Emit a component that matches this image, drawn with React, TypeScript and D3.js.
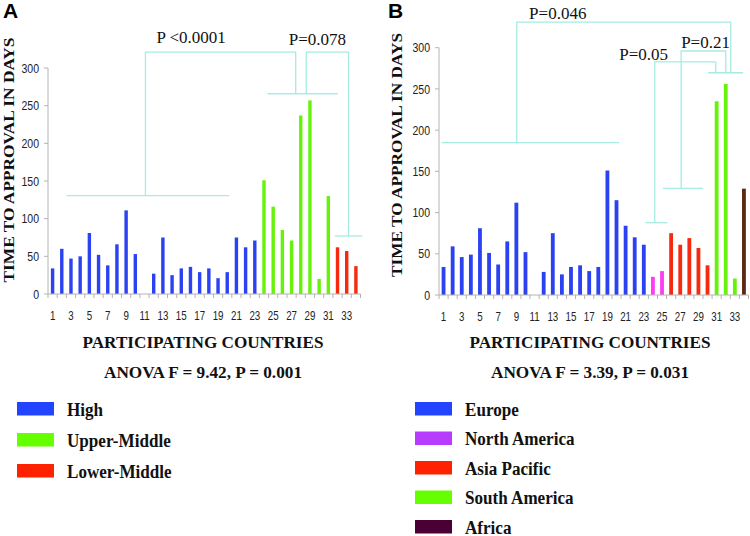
import React from "react";
import * as d3 from "d3";

// ---------- DATA ----------
const countries = d3.range(1, 35); // 1..34
const tickLabels = d3.range(1, 34, 2); // 1,3,...,33
const yTicks = [0, 50, 100, 150, 200, 250, 300];

// Panel A: income groups
const valuesA: (number | null)[] = [
  34, 60, 47, 50, 81, 52, 38, 66, 111, 53, null, 27, 75, 25, 34, 36, 29, 34, 21, 29, 75, 62, 71,
  151, 116, 85, 71, 237, 257, 20, 130,
  62, 57, 37,
];
const groupsA: string[] = [
  ...Array(23).fill("High"),
  ...Array(8).fill("Upper-Middle"),
  ...Array(3).fill("Lower-Middle"),
];
const legendA = ["High", "Upper-Middle", "Lower-Middle"];
const barColorA: Record<string, string> = { High: "#2b42f2", "Upper-Middle": "#66f20a", "Lower-Middle": "#f52a0e" };
const legendColorA: Record<string, string> = { High: "#2244ff", "Upper-Middle": "#66ff00", "Lower-Middle": "#ff2200" };

// Panel B: regions
const valuesB: (number | null)[] = [
  34, 59, 46, 49, 81, 51, 37, 65, 112, 52, null, 28, 75, 25, 34, 36, 29, 34, 151, 115, 84, 70, 61,
  22, 29,
  75, 61, 69, 57, 36,
  235, 256, 20,
  129,
];
const groupsB: string[] = [
  ...Array(23).fill("Europe"),
  ...Array(2).fill("North America"),
  ...Array(5).fill("Asia Pacific"),
  ...Array(3).fill("South America"),
  "Africa",
];
const legendB = ["Europe", "North America", "Asia Pacific", "South America", "Africa"];
const barColorB: Record<string, string> = {
  Europe: "#2b42f2",
  "North America": "#ff3cf5",
  "Asia Pacific": "#f52a0e",
  "South America": "#66f20a",
  Africa: "#5a2a12",
};
const legendColorB: Record<string, string> = {
  Europe: "#2244ff",
  "North America": "#b83cff",
  "Asia Pacific": "#ff2200",
  "South America": "#66ff00",
  Africa: "#4a0035",
};

// Significance brackets, in data units (k = country position, v = days)
type Bracket = { label: string; l: number; r: number; top: number; lDrop: number; rDrop: number; lBar: [number, number]; rBar: [number, number]; lx: number; ly: number };
const bracketsA: Bracket[] = [
  { label: "P <0.0001", l: 11.1, r: 27.45, top: 321, lDrop: 130.5, rDrop: 266, lBar: [2.53, 20.2], rBar: [24.4, 32], lx: 12.3, ly: 333 },
  { label: "P=0.078", l: 28.6, r: 33.2, top: 321, lDrop: 266, rDrop: 77, lBar: [24.4, 32], rBar: [31.7, 34.7], lx: 26.7, ly: 330 },
];
const bracketsB: Bracket[] = [
  { label: "P=0.046", l: 9.04, r: 32.55, top: 331, lDrop: 184.8, rDrop: 269.7, lBar: [0.8, 20.3], rBar: [30.1, 33.9], lx: 10.4, ly: 335 },
  { label: "P=0.21", l: 27.1, r: 32.0, top: 296, lDrop: 129.4, rDrop: 269.7, lBar: [25.1, 29.5], rBar: [30.1, 33.9], lx: 27.1, ly: 300 },
  { label: "P=0.05", l: 24.2, r: 30.9, top: 282.7, lDrop: 87.7, rDrop: 269.7, lBar: [23.2, 25.6], rBar: [30.1, 33.9], lx: 20.3, ly: 285 },
];

const BRACKET = "#a6ece2";
const AXIS = "#b4b4b4";
const SERIF = "'Liberation Serif', 'Times New Roman', serif";
const SANS = "'Liberation Sans', Arial, sans-serif";

type PanelProps = {
  letter: string;
  letterX: number;
  values: (number | null)[];
  groups: string[];
  barColor: Record<string, string>;
  legend: string[];
  legendColor: Record<string, string>;
  brackets: Bracket[];
  x0: number;
  x1: number;
  y0: number;
  y300: number;
  titleX: number;
  titleY: number;
  titleLen: number;
  anova: string;
  centerX: number;
  legendX: number;
  legendTop: number;
  legendStep: number;
  tickLabelY: number;
  barFrac: number;
};

function Panel(p: PanelProps) {
  const xc = d3.scaleLinear().domain([0.5, 34.5]).range([p.x0, p.x1]);
  const y = d3.scaleLinear().domain([0, 300]).range([p.y0, p.y300]);
  const step = xc(2) - xc(1);
  const bw = step * p.barFrac;

  return (
    <g>
      <text x={p.letterX} y={18} fontFamily={SANS} fontWeight="bold" fontSize={21}>{p.letter}</text>

      {/* brackets */}
      {p.brackets.map((b, i) => (
        <g key={i} stroke={BRACKET} strokeWidth={1.3} fill="none">
          <path d={`M${xc(b.l)},${y(b.lDrop)}V${y(b.top)}H${xc(b.r)}V${y(b.rDrop)}`} />
          <line x1={xc(b.lBar[0])} x2={xc(b.lBar[1])} y1={y(b.lDrop)} y2={y(b.lDrop)} />
          <line x1={xc(b.rBar[0])} x2={xc(b.rBar[1])} y1={y(b.rDrop)} y2={y(b.rDrop)} />
        </g>
      ))}
      {p.brackets.map((b, i) => (
        <text key={"t" + i} x={xc(b.lx)} y={y(b.ly)} fontFamily={SERIF} fontSize={17} fill="#111">{b.label}</text>
      ))}

      {/* bars */}
      {p.values.map((v, i) =>
        v == null ? null : (
          <rect key={i} x={xc(countries[i]) - bw / 2} width={bw} y={y(v)} height={y(0) - y(v)} fill={p.barColor[p.groups[i]]} />
        )
      )}

      {/* y axis */}
      <line x1={p.x0} x2={p.x0} y1={y(0)} y2={y(300)} stroke={AXIS} strokeWidth={1} />
      {yTicks.map((t) => (
        <g key={t}>
          <line x1={p.x0 - 4} x2={p.x0} y1={y(t)} y2={y(t)} stroke={AXIS} />
          <text transform={`translate(${p.x0 - 9},${y(t) + 4.6}) scale(0.81,1)`} textAnchor="end" fontFamily={SANS} fontSize={13} fill="#222">{t}</text>
        </g>
      ))}

      {/* x axis */}
      <line x1={p.x0} x2={p.x1} y1={y(0)} y2={y(0)} stroke={AXIS} strokeWidth={1} />
      {d3.range(0, 35).map((k) => (
        <line key={k} x1={xc(k + 0.5)} x2={xc(k + 0.5)} y1={y(0)} y2={y(0) + 4} stroke={AXIS} />
      ))}
      {tickLabels.map((t) => (
        <text key={t} transform={`translate(${xc(t)},${p.tickLabelY}) scale(0.78,1)`} textAnchor="middle" fontFamily={SANS} fontSize={12.5} fill="#222">{t}</text>
      ))}

      {/* axis titles */}
      <text transform={`translate(${p.titleX},${p.titleY}) rotate(-90)`} textAnchor="middle" fontFamily={SERIF} fontWeight="bold" fontSize={15.5} textLength={p.titleLen} lengthAdjust="spacingAndGlyphs" fill="#111">TIME TO APPROVAL IN DAYS</text>
      <text x={p.centerX} y={348} textAnchor="middle" fontFamily={SERIF} fontWeight="bold" fontSize={16.5} textLength={241} lengthAdjust="spacingAndGlyphs" fill="#111">PARTICIPATING COUNTRIES</text>
      <text x={p.centerX} y={378} textAnchor="middle" fontFamily={SERIF} fontWeight="bold" fontSize={17} textLength={198} lengthAdjust="spacingAndGlyphs" fill="#111">{p.anova}</text>

      {/* legend */}
      {p.legend.map((g, i) => {
        const top = p.legendTop + i * p.legendStep;
        return (
          <g key={g}>
            <rect x={p.legendX} y={top} width={37} height={13.5} fill={p.legendColor[g]} />
            <text transform={`translate(${p.legendX + 50},${top + 13.5}) scale(0.96,1)`} fontFamily={SERIF} fontWeight="bold" fontSize={17.8} fill="#111">{g}</text>
          </g>
        );
      })}
    </g>
  );
}

export default function App() {
  return (
    <svg width={750} height={536} style={{ position: "absolute", left: 0, top: 0, background: "#fff" }}>
      <rect width={750} height={536} fill="#fff" />
      <Panel
        letter="A" letterX={3}
        values={valuesA} groups={groupsA} barColor={barColorA}
        legend={legendA} legendColor={legendColorA} brackets={bracketsA}
        x0={48} x1={360.5} y0={294} y300={68}
        titleX={14} titleY={160} titleLen={245}
        anova="ANOVA F = 9.42, P = 0.001" centerX={203}
        legendX={17} legendTop={402} legendStep={31}
        tickLabelY={319.5} barFrac={0.37}
      />
      <Panel
        letter="B" letterX={388}
        values={valuesB} groups={groupsB} barColor={barColorB}
        legend={legendB} legendColor={legendColorB} brackets={bracketsB}
        x0={439} x1={748.5} y0={295} y300={47.7}
        titleX={401.5} titleY={155} titleLen={244}
        anova="ANOVA F = 3.39, P = 0.031" centerX={590}
        legendX={415} legendTop={402} legendStep={29.5}
        tickLabelY={320.5} barFrac={0.42}
      />
    </svg>
  );
}
